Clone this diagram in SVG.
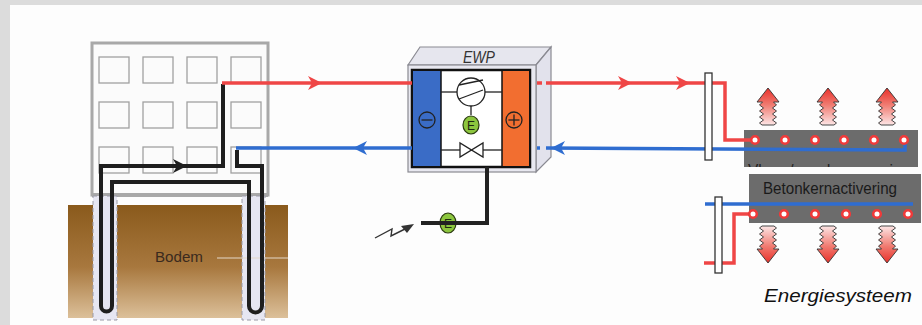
<svg xmlns="http://www.w3.org/2000/svg" width="922" height="325" viewBox="0 0 922 325">
  <defs>
    <style>
      .win { fill: none; stroke: #a0a0a0; stroke-width: 1.3; }
      .pipe { fill: none; stroke: #1e1e1e; stroke-width: 4; stroke-linejoin: miter; }
      .hot { fill: none; stroke: #ef4646; stroke-width: 3.5; }
      .cold { fill: none; stroke: #2f6dd0; stroke-width: 3.5; }
      .dot { fill: #ffffff; stroke: #ef3a3a; stroke-width: 2.6; }
      .slab { fill: #6c6c6c; }
      .manifold { fill: #ffffff; stroke: #333; stroke-width: 1.3; }
      .lbl { font-family: "Liberation Sans", Arial, sans-serif; }
      .sym { fill: none; stroke: #222; stroke-width: 1.3; }
      .egreen { fill: #8cc63e; stroke: #2a3a10; stroke-width: 1.2; }
      .heat { fill: url(#heatGrad); stroke: #333; stroke-width: 0.9; stroke-linejoin: round; }
    </style>
    <linearGradient id="soilGrad" x1="0" y1="0" x2="0" y2="1">
      <stop offset="0" stop-color="#8a5a1c"/>
      <stop offset="0.55" stop-color="#a8783e"/>
      <stop offset="1" stop-color="#dcc09a"/>
    </linearGradient>
    <linearGradient id="heatGrad" x1="0" y1="0" x2="0" y2="1">
      <stop offset="0" stop-color="#e8302a"/>
      <stop offset="0.45" stop-color="#f07a70"/>
      <stop offset="1" stop-color="#fde6e6"/>
    </linearGradient>
    <path id="arrowR" d="M0,0 L-14,-7 L-10,0 L-14,7 Z"/>
    <path id="heatUp" d="M0,0 L11,14 L5.5,14 L8.5,17 L4.5,20 L8.5,23 L4.5,26 L8.5,29 L4.5,32 L8.5,35 L6,37 L-6,37 L-8.5,35 L-4.5,32 L-8.5,29 L-4.5,26 L-8.5,23 L-4.5,20 L-8.5,17 L-5.5,14 L-11,14 Z"/>
    <clipPath id="slabClip">
      <rect x="744" y="130" width="174" height="37"/>
    </clipPath>
  </defs>

  <!-- page background -->
  <rect x="0" y="0" width="922" height="325" fill="#dcdcdc"/>
  <rect x="10" y="5" width="912" height="320" fill="#fdfdfd"/>

  <!-- building with ground probe -->
  <g id="building">
    <rect x="92" y="43" width="176" height="152" fill="#fbfbfb" stroke="#a8a8a8" stroke-width="3"/>
    <line x1="92" y1="195" x2="268" y2="195" stroke="#a8a8a8" stroke-width="4"/>
    <rect class="win" x="99" y="57" width="30" height="26"/>
    <rect class="win" x="143" y="57" width="30" height="26"/>
    <rect class="win" x="187" y="57" width="30" height="26"/>
    <rect class="win" x="231" y="57" width="30" height="26"/>
    <rect class="win" x="99" y="102" width="30" height="26"/>
    <rect class="win" x="143" y="102" width="30" height="26"/>
    <rect class="win" x="187" y="102" width="30" height="26"/>
    <rect class="win" x="231" y="102" width="30" height="26"/>
    <rect class="win" x="99" y="147" width="30" height="26"/>
    <rect class="win" x="143" y="147" width="30" height="26"/>
    <rect class="win" x="187" y="147" width="30" height="26"/>
    <rect class="win" x="231" y="147" width="30" height="26"/>
  </g>

  <g id="bodem">
    <rect x="68" y="205" width="220" height="113" fill="url(#soilGrad)"/>
    <rect x="93" y="196" width="24" height="124" fill="#e6e6f2" stroke="#9a9aa6" stroke-width="1" stroke-dasharray="4 3"/>
    <rect x="242" y="196" width="23" height="124" fill="#e6e6f2" stroke="#9a9aa6" stroke-width="1" stroke-dasharray="4 3"/>
    <text class="lbl" x="155" y="262" font-size="15.5" textLength="48" lengthAdjust="spacingAndGlyphs" fill="#3a2a1e">Bodem</text>
    <line x1="217" y1="258" x2="288" y2="258" stroke="#e4d8c8" stroke-width="1"/>
  </g>

  <!-- heat pump unit -->
  <g id="ewp">
    <polygon points="408,65 420,47 551,47 536,65" fill="#e6e6ee" stroke="#8a8a92" stroke-width="1.2"/>
    <polygon points="536,65 551,47 551,157 536,172" fill="#e2e2ec" stroke="#8a8a92" stroke-width="1.2"/>
    <rect x="408" y="65" width="128" height="107" fill="#e8e8f0" stroke="#8a8a92" stroke-width="1.2"/>
    <text class="lbl" x="463" y="63" font-size="16" font-style="italic" textLength="32" lengthAdjust="spacingAndGlyphs" fill="#333">EWP</text>
    <rect x="412" y="70" width="118" height="97" fill="#ffffff" stroke="#111" stroke-width="2.5"/>
    <rect x="413" y="71" width="28" height="95" fill="#3a6cc6"/>
    <rect x="502" y="71" width="27" height="95" fill="#f26e30"/>
    <line x1="441" y1="71" x2="441" y2="166" stroke="#111" stroke-width="1.5"/>
    <line x1="502" y1="71" x2="502" y2="166" stroke="#111" stroke-width="1.5"/>
    <!-- minus / plus -->
    <circle class="sym" cx="427" cy="120" r="8"/>
    <line class="sym" x1="421.5" y1="120" x2="432.5" y2="120"/>
    <circle class="sym" cx="514" cy="120" r="8"/>
    <line class="sym" x1="508.5" y1="120" x2="519.5" y2="120"/>
    <line class="sym" x1="514" y1="114.5" x2="514" y2="125.5"/>
    <!-- compressor -->
    <line class="sym" x1="441" y1="92" x2="457" y2="92"/>
    <line class="sym" x1="485" y1="92" x2="502" y2="92"/>
    <circle class="sym" cx="471" cy="92" r="14" fill="#fff"/>
    <line class="sym" x1="459" y1="85" x2="483" y2="80"/>
    <line class="sym" x1="459" y1="99" x2="483" y2="90"/>
    <line class="sym" x1="471" y1="106" x2="471" y2="115"/>
    <ellipse class="egreen" cx="471" cy="125" rx="8" ry="9"/>
    <text class="lbl" x="471" y="130" font-size="12" text-anchor="middle" fill="#1e2a10">E</text>
    <!-- expansion valve -->
    <line class="sym" x1="441" y1="150" x2="460" y2="150"/>
    <line class="sym" x1="483" y1="150" x2="502" y2="150"/>
    <path class="sym" d="M460,143 L460,157 L483,143 L483,157 Z" fill="#fff"/>
  </g>

  <!-- electricity supply -->
  <g id="elektra">
    <ellipse class="egreen" cx="448" cy="223" rx="8" ry="10"/>
    <text class="lbl" x="448" y="228" font-size="12" text-anchor="middle" fill="#1e2a10">E</text>
    <path d="M375,238 L392,229 L391,236 L405,229" fill="none" stroke="#333" stroke-width="1.4"/>
    <path d="M414,224 L401,226 L407,233 Z" fill="#333"/>
  </g>

  <!-- floor / wall heating slab -->
  <g id="vloerverwarming">
    <rect class="slab" x="744" y="130" width="174" height="37"/>
    <text class="lbl" x="748" y="176" font-size="16" textLength="162" lengthAdjust="spacingAndGlyphs" fill="#222" clip-path="url(#slabClip)">Vloer-/wandverwarming</text>
  </g>

  <!-- concrete core activation slab -->
  <g id="betonkernactivering">
    <rect class="slab" x="749" y="174" width="172" height="49"/>
    <text class="lbl" x="763" y="193.5" font-size="16.5" textLength="134" lengthAdjust="spacingAndGlyphs" fill="#1a1a1a">Betonkernactivering</text>
  </g>

  <!-- pipework -->
  <g id="connectors">
    <!-- ground loop -->
    <path class="pipe" d="M223,84 L223,166 L101,166 L101,306 A5.5,5.5 0 0 0 112,306 L112,182 L249,182 L249,306 A6.5,6.5 0 0 0 262,306 L262,166 L237,166 L237,150"/>
    <use href="#arrowR" x="187" y="166" fill="#1e1e1e"/>
    <!-- source side -->
    <line class="hot" x1="222" y1="83" x2="412" y2="83"/>
    <use href="#arrowR" x="322" y="83" fill="#ef4646"/>
    <line class="cold" x1="236" y1="148" x2="412" y2="148"/>
    <use href="#arrowR" transform="translate(353,148) scale(-1,1)" fill="#2f6dd0"/>
    <!-- supply line -->
    <path d="M487,167 L487,223 L421,223" fill="none" stroke="#222" stroke-width="4"/>
    <!-- delivery side -->
    <line x1="537" y1="83" x2="542" y2="83" stroke="#ef4646" stroke-width="3.5"/>
    <path class="hot" d="M546,83 L725,83 L725,140 L755,140"/>
    <use href="#arrowR" x="632" y="83" fill="#ef4646"/>
    <use href="#arrowR" x="690" y="83" fill="#ef4646"/>
    <line x1="537" y1="148" x2="540" y2="148" stroke="#2f6dd0" stroke-width="3.5"/>
    <path class="cold" d="M546,148 L905,150 L905,140"/>
    <use href="#arrowR" transform="translate(551,148) scale(-1,1)" fill="#2f6dd0"/>
    <rect class="manifold" x="705" y="73" width="7" height="87"/>
    <!-- core activation loop -->
    <line class="cold" x1="705" y1="204" x2="913" y2="204"/>
    <path class="hot" d="M704,263 L734,263 L734,214 L753,214"/>
    <rect class="manifold" x="715" y="197" width="7" height="76"/>
  </g>

  <!-- pipe coil cross-sections -->
  <g id="leidingen">
    <circle class="dot" cx="755" cy="140" r="3.8"/>
    <circle class="dot" cx="785" cy="140" r="3.8"/>
    <circle class="dot" cx="815" cy="140" r="3.8"/>
    <circle class="dot" cx="844" cy="140" r="3.8"/>
    <circle class="dot" cx="874" cy="140" r="3.8"/>
    <circle class="dot" cx="904" cy="140" r="3.8"/>
    <circle class="dot" cx="753" cy="214" r="3.8"/>
    <circle class="dot" cx="784" cy="214" r="3.8"/>
    <circle class="dot" cx="815" cy="214" r="3.8"/>
    <circle class="dot" cx="846" cy="214" r="3.8"/>
    <circle class="dot" cx="877" cy="214" r="3.8"/>
    <circle class="dot" cx="908" cy="214" r="3.8"/>
  </g>

  <!-- heat emission -->
  <g id="warmteafgifte">
    <use href="#heatUp" class="heat" x="768" y="88"/>
    <use href="#heatUp" class="heat" x="828" y="88"/>
    <use href="#heatUp" class="heat" x="887" y="88"/>
    <use href="#heatUp" class="heat" transform="translate(768,263) scale(1,-1)"/>
    <use href="#heatUp" class="heat" transform="translate(828,263) scale(1,-1)"/>
    <use href="#heatUp" class="heat" transform="translate(887,263) scale(1,-1)"/>
  </g>

  <text class="lbl" x="764" y="302" font-size="19" font-style="italic" textLength="148" lengthAdjust="spacingAndGlyphs" fill="#111">Energiesysteem</text>
</svg>
